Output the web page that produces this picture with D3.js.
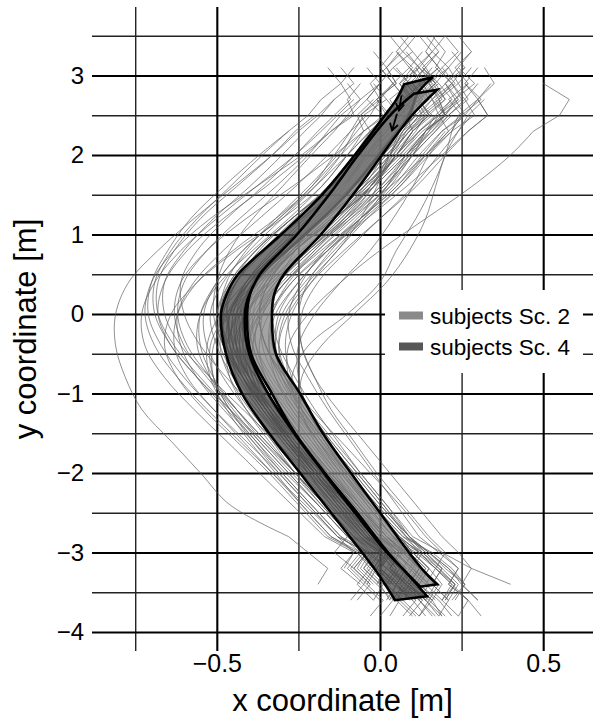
<!DOCTYPE html>
<html><head><meta charset="utf-8">
<script src="https://cdn.jsdelivr.net/npm/d3@7"></script>
<style>body{margin:0;background:#fff} text{font-family:"Liberation Sans",Arial,Helvetica,sans-serif;fill:#000}</style>
</head><body><svg id="c" width="593" height="720"></svg>
<script>
// ---------- data ----------
const xDomain = [-0.8824, 0.6526];
const yDomain = [-4.239, 3.862];
const xMajorTicks = [-0.5, 0, 0.5];
const xMinorTicks = [-0.75, -0.25, 0.25];
const yMajorTicks = [-4, -3, -2, -1, 0, 1, 2, 3];
const yMinorTicks = [-3.5, -2.5, -1.5, -0.5, 0.5, 1.5, 2.5, 3.5];
const xTickLabels = ["\u22120.5", "0.0", "0.5"];
const yTickLabels = ["\u22124", "\u22123", "\u22122", "\u22121", "0", "1", "2", "3"];
const xTitle = "x coordinate [m]";
const yTitle = "y coordinate [m]";
const legendLabels = ["subjects Sc. 2", "subjects Sc. 4"];
const legendColors = ["#8a8a8a", "#575757"];

// mean +/- sd bands (edges as [x, y])
const sc4Left = [[0.074,2.89],[0.049,2.69],[0.015,2.50],[-0.077,2.00],[-0.178,1.50],[-0.303,1.00],[-0.435,0.50],[-0.470,0.25],[-0.487,0.00],[-0.472,-0.50],[-0.423,-1.00],[-0.340,-1.50],[-0.245,-2.00],[-0.150,-2.50],[-0.055,-3.00],[-0.009,-3.25],[0.046,-3.60]];
const sc4Right = [[0.162,2.98],[0.116,2.78],[0.089,2.50],[-0.003,2.00],[-0.104,1.50],[-0.230,1.00],[-0.362,0.50],[-0.400,0.25],[-0.414,0.00],[-0.401,-0.50],[-0.343,-1.00],[-0.263,-1.50],[-0.172,-2.00],[-0.077,-2.50],[0.021,-3.00],[0.080,-3.25],[0.144,-3.55]];
const sc2Left = [[0.104,2.77],[0.031,2.50],[-0.067,2.00],[-0.156,1.50],[-0.254,1.00],[-0.368,0.50],[-0.398,0.25],[-0.407,0.00],[-0.395,-0.50],[-0.331,-1.00],[-0.260,-1.50],[-0.169,-2.00],[-0.070,-2.50],[0.025,-3.00],[0.080,-3.25],[0.123,-3.43]];
const sc2Right = [[0.175,2.82],[0.098,2.50],[0.006,2.00],[-0.083,1.50],[-0.181,1.00],[-0.294,0.50],[-0.324,0.25],[-0.331,0.00],[-0.319,-0.50],[-0.245,-1.00],[-0.175,-1.50],[-0.089,-2.00],[0.000,-2.50],[0.089,-3.00],[0.138,-3.25],[0.175,-3.40]];
const dirArrows = [[[0.066,2.75],[0.058,2.56]],[[0.052,2.52],[0.037,2.31]]];

// individual trajectories: x at the y levels below, starting at level index trajStart[i]
const trajY = [3.5,3.3,3.1,2.9,2.7,2.5,2.3,2.0,1.6,1.2,0.8,0.4,0.0,-0.4,-0.8,-1.2,-1.6,-2.0,-2.4,-2.8,-3.0,-3.2,-3.4,-3.6,-3.8];
const trajStart = [2,1,3,0,2,4,1,3,2,5, 1,2,3,0,2,4,1,3,2,5, 4,3,2,5,1,6,3,4, 2,3,1,4,2,3,5,3,0,2,4,6, 3,1,2,4,0,2,5,3,1,2, 4,0,3,2,5,4,1,3,0,2,
  0,1,2,3,0,4,2,1,3,2, 5,0,3,1,4,2,3,0,2,4, 1,3,5,2,0];
const trajX = [
[0.14,0.10,0.13,0.08,0.05,-0.02,-0.10,-0.21,-0.31,-0.39,-0.42,-0.41,-0.36,-0.30,-0.23,-0.16,-0.08,0.00,0.05,0.02,0.08],
[0.08,0.12,0.06,0.09,0.03,0.00,-0.04,-0.12,-0.24,-0.36,-0.45,-0.50,-0.49,-0.44,-0.37,-0.29,-0.21,-0.13,-0.05,0.03,0.07,0.04,0.10],
[0.20,0.16,0.18,0.12,0.06,-0.05,-0.15,-0.26,-0.35,-0.40,-0.39,-0.35,-0.28,-0.21,-0.14,-0.07,0.01,0.09,0.14,0.11,0.16],
[0.12,0.16,0.11,0.14,0.09,0.11,0.06,0.00,-0.09,-0.19,-0.28,-0.35,-0.37,-0.35,-0.30,-0.24,-0.17,-0.10,-0.02,0.06,0.10,0.07,0.12],
[0.05,0.09,0.03,0.06,0.00,-0.06,-0.15,-0.27,-0.38,-0.46,-0.50,-0.48,-0.42,-0.34,-0.26,-0.18,-0.10,-0.02,0.02,0.00,0.05,0.03],
[0.22,0.18,0.12,0.05,-0.03,-0.12,-0.22,-0.31,-0.36,-0.36,-0.32,-0.26,-0.19,-0.11,-0.03,0.06,0.10,0.15,0.12,0.17],
[0.25,0.21,0.24,0.18,0.20,0.14,0.10,0.02,-0.08,-0.19,-0.29,-0.36,-0.39,-0.37,-0.32,-0.25,-0.18,-0.10,-0.01,0.08,0.13,0.18,0.15,0.20],
[-0.02,0.02,-0.05,-0.08,-0.12,-0.20,-0.30,-0.40,-0.48,-0.52,-0.50,-0.45,-0.38,-0.30,-0.22,-0.14,-0.06,0.00,-0.03,0.02],
[0.16,0.12,0.15,0.10,0.07,0.01,-0.08,-0.18,-0.27,-0.34,-0.37,-0.35,-0.30,-0.24,-0.17,-0.11,-0.04,0.04,0.08,0.12,0.09,0.13],
[0.10,0.04,-0.04,-0.14,-0.25,-0.36,-0.44,-0.48,-0.47,-0.42,-0.35,-0.27,-0.19,-0.11,-0.03,0.02,0.06,0.03],
[0.18,0.14,0.17,0.12,0.08,0.10,0.05,-0.02,-0.11,-0.22,-0.33,-0.41,-0.45,-0.44,-0.39,-0.33,-0.26,-0.18,-0.09,0.00,0.04,0.09,0.06,0.11],
[0.28,0.24,0.27,0.21,0.16,0.08,-0.02,-0.14,-0.26,-0.35,-0.39,-0.38,-0.33,-0.26,-0.19,-0.11,-0.03,0.06,0.12,0.17,0.14,0.19],
[0.08,0.12,0.06,0.03,-0.03,-0.12,-0.23,-0.33,-0.41,-0.45,-0.44,-0.40,-0.34,-0.27,-0.20,-0.12,-0.04,0.01,0.05,0.02,0.07],
[0.03,0.07,0.02,0.05,-0.01,0.02,-0.03,-0.08,-0.16,-0.26,-0.36,-0.44,-0.48,-0.47,-0.42,-0.35,-0.28,-0.20,-0.12,-0.04,0.01,-0.02,0.03],
[0.21,0.17,0.20,0.15,0.10,0.04,-0.05,-0.16,-0.27,-0.37,-0.43,-0.44,-0.40,-0.33,-0.25,-0.16,-0.07,0.02,0.08,0.13,0.10,0.16,0.12],
[0.13,0.09,0.05,-0.01,-0.09,-0.19,-0.29,-0.37,-0.41,-0.40,-0.36,-0.30,-0.23,-0.15,-0.07,0.01,0.06,0.03,0.08],
[0.10,0.14,0.09,0.13,0.08,0.04,0.01,-0.05,-0.13,-0.23,-0.32,-0.38,-0.40,-0.38,-0.33,-0.27,-0.20,-0.13,-0.05,0.03,0.08,0.05,0.10,0.14],
[0.30,0.26,0.29,0.22,0.14,0.03,-0.09,-0.21,-0.31,-0.37,-0.38,-0.34,-0.27,-0.19,-0.10,-0.01,0.08,0.14,0.19,0.16,0.21],
[-0.04,0.00,-0.06,-0.10,-0.14,-0.21,-0.30,-0.39,-0.46,-0.50,-0.51,-0.48,-0.42,-0.35,-0.27,-0.19,-0.11,-0.03,0.01,-0.02,0.02,0.05],
[0.17,0.12,0.05,-0.05,-0.17,-0.29,-0.38,-0.42,-0.41,-0.36,-0.29,-0.21,-0.13,-0.05,0.04,0.09,0.14,0.11,0.16],
[-0.14,-0.19,-0.25,-0.33,-0.45,-0.57,-0.68,-0.77,-0.81,-0.81,-0.78,-0.73,-0.64,-0.55,-0.46,-0.28,-0.22,-0.16,-0.19],
[-0.06,-0.10,-0.08,-0.15,-0.24,-0.38,-0.52,-0.63,-0.70,-0.72,-0.69,-0.62,-0.53,-0.43,-0.33,-0.23,-0.13,-0.04,-0.08,-0.03],
[0.04,0.00,-0.04,-0.09,-0.15,-0.23,-0.35,-0.48,-0.59,-0.66,-0.68,-0.64,-0.56,-0.46,-0.36,-0.26,-0.16,-0.06,0.00,-0.04,0.01,-0.02],
[-0.20,-0.26,-0.33,-0.44,-0.55,-0.63,-0.68,-0.68,-0.63,-0.55,-0.46,-0.37,-0.28,-0.19,-0.10,-0.05,-0.09,-0.04],
[0.06,0.02,0.05,-0.01,-0.06,-0.03,-0.10,-0.18,-0.30,-0.44,-0.56,-0.64,-0.66,-0.62,-0.54,-0.44,-0.34,-0.25,-0.16,-0.07,-0.02,-0.05,0.00],
[-0.28,-0.37,-0.48,-0.58,-0.65,-0.70,-0.71,-0.67,-0.60,-0.51,-0.41,-0.31,-0.22,-0.13,-0.08,-0.11],
[0.12,0.08,0.02,-0.05,-0.14,-0.27,-0.41,-0.53,-0.61,-0.63,-0.60,-0.53,-0.44,-0.35,-0.26,-0.17,-0.08,-0.02,-0.05,0.00,0.03],
[-0.08,-0.13,-0.18,-0.26,-0.38,-0.50,-0.61,-0.69,-0.73,-0.72,-0.66,-0.57,-0.47,-0.37,-0.27,-0.17,-0.08,-0.12,-0.06],
[0.24,0.20,0.23,0.18,0.15,0.10,0.03,-0.06,-0.15,-0.22,-0.25,-0.24,-0.20,-0.15,-0.08,-0.01,0.07,0.15,0.20,0.17,0.23,0.20],
[0.18,0.22,0.17,0.14,0.09,0.02,-0.07,-0.17,-0.24,-0.28,-0.27,-0.22,-0.16,-0.09,-0.02,0.05,0.12,0.18,0.24,0.21,0.27],
[0.22,0.26,0.20,0.24,0.18,0.21,0.15,0.10,0.04,-0.03,-0.12,-0.20,-0.25,-0.25,-0.22,-0.17,-0.10,-0.03,0.05,0.13,0.19,0.24,0.21],
[0.32,0.27,0.24,0.18,0.10,0.00,-0.10,-0.19,-0.24,-0.24,-0.20,-0.13,-0.05,0.03,0.11,0.19,0.24,0.28,0.25,0.30],
[0.12,0.16,0.11,0.08,0.06,0.03,-0.01,-0.06,-0.13,-0.22,-0.29,-0.31,-0.28,-0.22,-0.15,-0.07,0.01,0.08,0.12,0.09,0.14],
[0.26,0.30,0.24,0.22,0.20,0.16,0.11,0.05,0.00,-0.10,-0.22,-0.27,-0.25,-0.19,-0.12,-0.04,0.04,0.12,0.17,0.22,0.19,0.24],
[0.28,0.24,0.20,0.17,0.14,0.09,0.02,-0.08,-0.18,-0.24,-0.24,-0.20,-0.13,-0.06,0.02,0.10,0.15,0.19,0.16],
[0.50,0.58,0.55,0.47,0.40,0.28,0.14,0.00,-0.12,-0.22,-0.28,-0.28,-0.24,-0.18,-0.10,-0.02,0.07,0.16,0.22,0.26],
[0.16,0.20,0.17,0.22,0.18,0.20,0.14,0.08,0.02,-0.05,-0.14,-0.23,-0.30,-0.32,-0.30,-0.25,-0.19,-0.12,-0.04,0.04,0.10,0.15,0.12,0.18,0.22],
[0.32,0.35,0.30,0.33,0.27,0.20,0.11,0.00,-0.11,-0.21,-0.28,-0.31,-0.29,-0.24,-0.17,-0.09,-0.01,0.08,0.15,0.21,0.25,0.30],
[0.02,0.06,0.01,-0.04,-0.11,-0.19,-0.26,-0.31,-0.33,-0.31,-0.26,-0.20,-0.13,-0.06,0.02,0.09,0.13,0.10,0.15],
[0.20,0.14,0.06,-0.04,-0.13,-0.21,-0.27,-0.29,-0.27,-0.22,-0.15,-0.07,0.01,0.09,0.14,0.19,0.16,0.21,0.18],
[0.10,0.14,0.09,0.05,0.00,-0.08,-0.19,-0.30,-0.40,-0.46,-0.47,-0.43,-0.37,-0.30,-0.22,-0.14,-0.05,0.03,0.08,0.05,0.11],
[0.14,0.18,0.13,0.16,0.11,0.07,0.03,-0.04,-0.14,-0.26,-0.37,-0.46,-0.51,-0.51,-0.46,-0.39,-0.31,-0.22,-0.13,-0.04,0.02,0.07,0.04],
[0.00,0.04,0.00,-0.03,-0.07,-0.13,-0.22,-0.32,-0.41,-0.47,-0.49,-0.46,-0.40,-0.32,-0.24,-0.15,-0.07,0.01,0.06,0.03,0.08,0.12],
[0.24,0.20,0.15,0.08,-0.02,-0.14,-0.26,-0.36,-0.42,-0.43,-0.40,-0.34,-0.27,-0.19,-0.11,-0.03,0.03,0.00,0.05,0.09],
[0.09,0.05,0.10,0.06,0.10,0.05,0.02,-0.04,-0.12,-0.22,-0.32,-0.41,-0.46,-0.46,-0.42,-0.36,-0.29,-0.21,-0.13,-0.05,0.00,0.04,0.01,0.06,0.03],
[0.19,0.15,0.19,0.13,0.09,0.03,-0.06,-0.17,-0.29,-0.40,-0.47,-0.49,-0.46,-0.40,-0.32,-0.23,-0.14,-0.05,0.01,0.06,0.03],
[0.02,-0.03,-0.10,-0.20,-0.31,-0.42,-0.50,-0.55,-0.55,-0.51,-0.44,-0.36,-0.27,-0.18,-0.09,-0.04,-0.07,-0.02],
[0.15,0.11,0.16,0.10,0.05,-0.03,-0.14,-0.26,-0.37,-0.44,-0.46,-0.42,-0.35,-0.27,-0.18,-0.09,0.00,0.08,0.13,0.10,0.16,0.19],
[0.04,0.00,0.04,-0.01,0.03,-0.02,-0.05,-0.11,-0.20,-0.31,-0.41,-0.49,-0.53,-0.52,-0.47,-0.40,-0.32,-0.24,-0.15,-0.06,-0.01,-0.04,0.01,-0.03],
[0.26,0.22,0.25,0.19,0.14,0.07,-0.03,-0.15,-0.26,-0.34,-0.37,-0.35,-0.29,-0.21,-0.12,-0.03,0.06,0.14,0.19,0.24,0.21,0.27,0.31],
[0.07,0.11,0.06,0.00,-0.09,-0.20,-0.31,-0.40,-0.45,-0.45,-0.41,-0.35,-0.28,-0.20,-0.12,-0.04,0.02,-0.01,0.04],
[0.20,0.24,0.19,0.23,0.17,0.20,0.13,0.06,-0.04,-0.15,-0.26,-0.35,-0.41,-0.42,-0.39,-0.33,-0.26,-0.18,-0.09,0.00,0.06,0.11,0.08,0.14,0.18],
[-0.10,-0.06,-0.12,-0.16,-0.22,-0.32,-0.43,-0.53,-0.60,-0.62,-0.59,-0.52,-0.44,-0.35,-0.26,-0.17,-0.08,-0.03,-0.06,-0.01],
[0.11,0.07,0.10,0.05,0.02,-0.05,-0.15,-0.27,-0.38,-0.45,-0.47,-0.44,-0.38,-0.31,-0.23,-0.15,-0.07,0.02,0.07,0.12,0.09,0.14],
[0.14,0.09,0.02,-0.08,-0.20,-0.32,-0.41,-0.46,-0.45,-0.40,-0.33,-0.25,-0.16,-0.07,0.02,0.08,0.12,0.09,0.14],
[0.16,0.12,0.08,0.02,-0.07,-0.17,-0.27,-0.34,-0.37,-0.35,-0.29,-0.22,-0.14,-0.06,0.02,0.10,0.19,0.28,0.40],
[0.13,0.09,0.14,0.10,0.13,0.07,0.03,-0.03,-0.11,-0.20,-0.29,-0.36,-0.39,-0.38,-0.34,-0.28,-0.22,-0.15,-0.07,0.01,0.05,0.02,0.07],
[0.27,0.23,0.20,0.16,0.09,0.00,-0.11,-0.22,-0.32,-0.39,-0.42,-0.40,-0.35,-0.28,-0.20,-0.12,-0.04,0.04,0.10,0.06,0.12,0.16],
[0.17,0.14,0.18,0.12,0.15,0.09,0.06,0.00,-0.09,-0.20,-0.31,-0.40,-0.44,-0.43,-0.38,-0.31,-0.24,-0.16,-0.08,0.01,0.06,0.03,0.08,0.05],
[-0.08,-0.12,-0.09,-0.14,-0.19,-0.26,-0.36,-0.47,-0.56,-0.61,-0.60,-0.55,-0.47,-0.38,-0.29,-0.20,-0.11,-0.02,0.02,-0.01,0.04],
[0.06,0.10,0.04,0.09,0.05,0.08,0.02,-0.05,-0.15,-0.27,-0.38,-0.46,-0.49,-0.47,-0.41,-0.34,-0.26,-0.18,-0.10,-0.02,0.03,0.00,0.05,0.02],
[0.28,0.24,0.29,0.23,0.26,0.19,0.13,0.05,-0.06,-0.18,-0.29,-0.37,-0.41,-0.40,-0.35,-0.28,-0.20,-0.11,-0.02,0.07,0.12,0.17,0.14,0.19],
[-0.12,-0.08,-0.14,-0.18,-0.23,-0.30,-0.40,-0.51,-0.60,-0.66,-0.66,-0.61,-0.52,-0.42,-0.32,-0.22,-0.12,-0.03,0.02,-0.02,0.03],
[0.04,0.08,0.02,-0.02,-0.08,-0.16,-0.27,-0.37,-0.44,-0.47,-0.45,-0.40,-0.33,-0.25,-0.17,-0.09,-0.01,0.04,0.00,0.05,0.09],
[0.20,0.16,0.21,0.15,0.18,0.12,0.08,0.01,-0.08,-0.18,-0.28,-0.36,-0.40,-0.39,-0.35,-0.29,-0.22,-0.14,-0.06,0.02,0.08,0.12,0.09,0.15,0.12],
[0.30,0.26,0.21,0.14,0.05,-0.06,-0.17,-0.27,-0.33,-0.34,-0.31,-0.25,-0.18,-0.10,-0.02,0.07,0.13,0.18,0.23,0.20],
[0.09,0.13,0.07,0.11,0.05,-0.01,-0.09,-0.19,-0.30,-0.40,-0.46,-0.46,-0.42,-0.36,-0.28,-0.20,-0.11,-0.02,0.04,0.00,0.06],
[-0.02,0.02,-0.03,0.00,-0.06,-0.09,-0.14,-0.21,-0.32,-0.45,-0.56,-0.62,-0.63,-0.59,-0.51,-0.42,-0.33,-0.24,-0.15,-0.07,-0.03,-0.07,-0.02],
[0.22,0.26,0.21,0.17,0.10,0.01,-0.10,-0.22,-0.33,-0.41,-0.44,-0.42,-0.36,-0.29,-0.21,-0.13,-0.04,0.05,0.10,0.15,0.12,0.17],
[0.13,0.17,0.12,0.15,0.10,0.05,-0.02,-0.10,-0.20,-0.30,-0.37,-0.40,-0.39,-0.34,-0.27,-0.19,-0.11,-0.03,0.03,0.08,0.05,0.10],
[-0.04,-0.09,-0.16,-0.26,-0.37,-0.48,-0.57,-0.62,-0.61,-0.56,-0.48,-0.39,-0.30,-0.21,-0.12,-0.06,-0.10,-0.05,-0.09],
[0.24,0.28,0.23,0.27,0.21,0.25,0.19,0.12,0.04,-0.06,-0.16,-0.25,-0.32,-0.34,-0.32,-0.27,-0.20,-0.12,-0.03,0.06,0.12,0.18,0.23,0.19],
[0.34,0.30,0.33,0.27,0.19,0.08,-0.04,-0.16,-0.27,-0.34,-0.37,-0.35,-0.30,-0.23,-0.15,-0.06,0.03,0.11,0.17,0.22,0.27,0.24],
[0.16,0.12,0.17,0.11,0.14,0.08,0.04,-0.03,-0.12,-0.23,-0.34,-0.43,-0.47,-0.46,-0.41,-0.34,-0.26,-0.17,-0.08,0.01,0.06,0.10,0.07,0.12],
[-0.02,-0.07,-0.05,-0.12,-0.21,-0.31,-0.42,-0.50,-0.54,-0.53,-0.48,-0.41,-0.33,-0.24,-0.15,-0.06,-0.01,-0.05,0.00],
[0.18,0.22,0.16,0.20,0.14,0.08,0.00,-0.10,-0.21,-0.31,-0.38,-0.41,-0.39,-0.34,-0.27,-0.19,-0.10,-0.01,0.05,0.10,0.07,0.13,0.09],
[0.00,-0.04,0.01,-0.05,-0.10,-0.18,-0.28,-0.39,-0.49,-0.55,-0.56,-0.52,-0.45,-0.37,-0.28,-0.19,-0.10,-0.04,-0.08,-0.03,-0.07],
[0.11,0.07,0.12,0.08,0.12,0.06,0.03,-0.03,-0.11,-0.21,-0.31,-0.39,-0.43,-0.42,-0.37,-0.31,-0.24,-0.16,-0.08,0.00,0.05,0.09,0.06,0.11,0.07],
[0.30,0.26,0.31,0.25,0.22,0.15,0.06,-0.05,-0.16,-0.25,-0.31,-0.32,-0.29,-0.23,-0.16,-0.08,0.00,0.09,0.15,0.21,0.26,0.23],
[0.10,0.06,0.02,-0.04,-0.13,-0.24,-0.35,-0.44,-0.49,-0.48,-0.43,-0.36,-0.28,-0.19,-0.10,-0.02,0.03,-0.01,0.04],
[0.05,0.09,0.04,0.08,0.02,0.05,-0.01,-0.07,-0.16,-0.27,-0.38,-0.47,-0.52,-0.51,-0.46,-0.38,-0.30,-0.21,-0.12,-0.03,0.02,-0.01,0.04,0.00],
[0.16,0.20,0.14,0.11,0.05,-0.03,-0.13,-0.24,-0.34,-0.41,-0.43,-0.41,-0.35,-0.27,-0.19,-0.10,-0.01,0.07,0.12,0.08,0.14],
[0.22,0.17,0.10,0.01,-0.09,-0.19,-0.28,-0.33,-0.33,-0.29,-0.23,-0.16,-0.08,0.00,0.09,0.15,0.20,0.26,0.22],
[-0.16,-0.12,-0.18,-0.22,-0.28,-0.36,-0.46,-0.56,-0.64,-0.69,-0.69,-0.64,-0.56,-0.47,-0.38,-0.29,-0.19,-0.10,-0.14,-0.08],
[0.14,0.18,0.13,0.18,0.12,0.15,0.09,0.03,-0.06,-0.17,-0.28,-0.38,-0.44,-0.44,-0.40,-0.33,-0.25,-0.16,-0.07,0.02,0.07,0.03,0.09,0.05,0.10]
];

// ---------- drawing ----------
const plot = {left: 92, right: 593, top: 7, bottom: 651};
const svg = d3.select("#c");
const x = d3.scaleLinear().domain(xDomain).range([plot.left, plot.right]);
const y = d3.scaleLinear().domain(yDomain).range([plot.bottom, plot.top]);
const FONT = '"Liberation Sans", Arial, sans-serif';

function styleGrid(g, color, width) {
  g.select(".domain").remove();
  g.selectAll(".tick line").attr("stroke", color).attr("stroke-width", width);
}
// minor grid
svg.append("g").attr("transform", `translate(${plot.left},0)`)
  .call(d3.axisLeft(y).tickValues(yMinorTicks).tickSize(-(plot.right - plot.left)).tickFormat(""))
  .call(g => styleGrid(g, "#222", 1.4));
svg.append("g").attr("transform", `translate(0,${plot.bottom})`)
  .call(d3.axisBottom(x).tickValues(xMinorTicks).tickSize(-(plot.bottom - plot.top)).tickFormat(""))
  .call(g => styleGrid(g, "#222", 1.4));
// major grid + labels
svg.append("g").attr("transform", `translate(${plot.left},0)`)
  .call(d3.axisLeft(y).tickValues(yMajorTicks).tickSize(-(plot.right - plot.left)).tickPadding(8)
    .tickFormat((d, i) => yTickLabels[i]))
  .call(g => styleGrid(g, "#000", 2.1))
  .call(g => g.selectAll(".tick text").attr("font-size", 24).attr("fill", "#000").attr("font-family", FONT));
svg.append("g").attr("transform", `translate(0,${plot.bottom})`)
  .call(d3.axisBottom(x).tickValues(xMajorTicks).tickSize(-(plot.bottom - plot.top)).tickPadding(3)
    .tickFormat((d, i) => xTickLabels[i]))
  .call(g => styleGrid(g, "#000", 2.1))
  .call(g => g.selectAll(".tick text").attr("font-size", 25).attr("fill", "#000").attr("font-family", FONT));

// trajectories
const smooth = d3.line().x(d => x(d[0])).y(d => y(d[1])).curve(d3.curveCatmullRom.alpha(0.5));
const jag = d3.line().x(d => x(d[0])).y(d => y(d[1]));
const tg = svg.append("g").attr("fill", "none").attr("stroke", "#5c5c5c")
  .attr("stroke-width", 0.85).attr("stroke-opacity", 0.8);
trajX.forEach((xs, k) => {
  const s = trajStart[k];
  const pts = [];
  xs.forEach((v, i) => { if (s + i < trajY.length) pts.push({i: s + i, p: [v, trajY[s + i]]}); });
  const top = pts.filter(d => d.i <= 6).map(d => d.p);
  const mid = pts.filter(d => d.i >= 6 && d.i <= 19).map(d => d.p);
  const bot = pts.filter(d => d.i >= 19).map(d => d.p);
  if (top.length > 1) tg.append("path").attr("d", jag(top));
  if (mid.length > 1) tg.append("path").attr("d", smooth(mid));
  if (bot.length > 1) tg.append("path").attr("d", jag(bot));
});

// bands
const edge = d3.line().x(d => x(d[0])).y(d => y(d[1])).curve(d3.curveCatmullRom.alpha(0.5));
function bandPath(L, R) {
  const a = edge(L), b = edge(R.slice().reverse());
  return a + "L" + b.slice(1) + "Z";
}
svg.append("path").attr("d", bandPath(sc4Left, sc4Right))
  .attr("fill", "#4a4a4a").attr("fill-opacity", 0.75)
  .attr("stroke", "#000").attr("stroke-width", 2.6).attr("stroke-linejoin", "miter");
svg.append("path").attr("d", bandPath(sc2Left, sc2Right))
  .attr("fill", "#808080").attr("fill-opacity", 0.72)
  .attr("stroke", "#000").attr("stroke-width", 2.6).attr("stroke-linejoin", "miter");

// direction arrows
const ag = svg.append("g").attr("stroke", "#000").attr("stroke-width", 1.8).attr("fill", "none");
dirArrows.forEach(([a, b]) => {
  const x1 = x(a[0]), y1 = y(a[1]), x2 = x(b[0]), y2 = y(b[1]);
  const ang = Math.atan2(y2 - y1, x2 - x1), L = 8;
  ag.append("line").attr("x1", x1).attr("y1", y1).attr("x2", x2).attr("y2", y2);
  ag.append("path").attr("d",
    `M${x2 - L * Math.cos(ang - 0.55)},${y2 - L * Math.sin(ang - 0.55)}L${x2},${y2}L${x2 - L * Math.cos(ang + 0.55)},${y2 - L * Math.sin(ang + 0.55)}`);
});

// legend
const lg = svg.append("g");
lg.append("rect").attr("x", 385).attr("y", 290).attr("width", 198).attr("height", 83).attr("fill", "#fff");
legendLabels.forEach((t, i) => {
  const cy = 315.5 + i * 31;
  lg.append("rect").attr("x", 399).attr("y", cy - 4).attr("width", 24).attr("height", 8).attr("fill", legendColors[i]);
  lg.append("text").attr("x", 430).attr("y", cy + 8).attr("font-size", 22.5).text(t);
});

// axis titles
svg.append("text").attr("x", (plot.left + plot.right) / 2).attr("y", 711)
  .attr("text-anchor", "middle").attr("font-size", 31).text(xTitle);
svg.append("text").attr("transform", `translate(36,${(plot.top + plot.bottom) / 2}) rotate(-90)`)
  .attr("text-anchor", "middle").attr("font-size", 31).text(yTitle);
</script>
</body></html>
